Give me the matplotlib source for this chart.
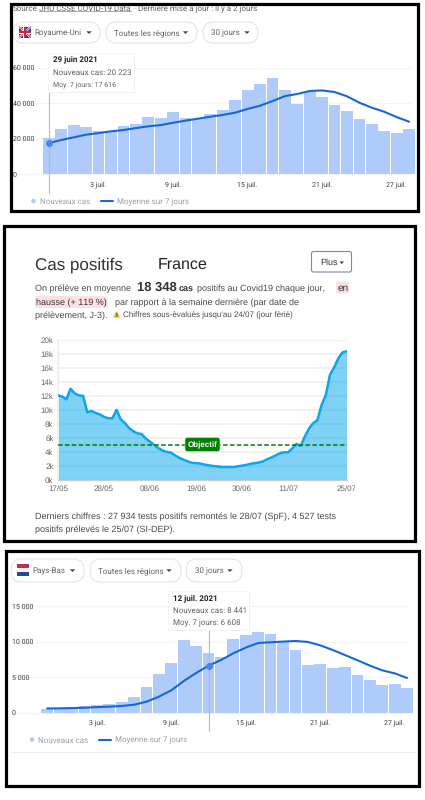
import matplotlib
matplotlib.use("Agg")
import matplotlib.pyplot as plt
from matplotlib.patches import Rectangle, FancyBboxPatch, Polygon, Circle
from matplotlib.transforms import Bbox
from matplotlib.textpath import TextPath
from matplotlib.font_manager import FontProperties

plt.rcParams["text.hinting"] = "no_hinting"
plt.rcParams["text.hinting_factor"] = 1

# ---------- data ----------
uk_new = [20223, 25500, 27600, 26700, 24300, 24500, 27000, 28300, 32000, 31800,
          35000, 31700, 31000, 33900, 36200, 41600, 47700, 51100, 54000, 47400,
          39500, 46200, 43300, 39200, 35600, 31300, 28500, 24500, 23100, 25300]
uk_avg = [17616, 19300, 20800, 22300, 23200, 24200, 24900, 26000, 27000, 27700,
          29000, 30200, 31300, 32400, 33400, 34700, 36800, 38600, 41200, 44000,
          45200, 46900, 47200, 46300, 43900, 40300, 37500, 35200, 32200, 29600]
nl_new = [520, 650, 660, 890, 1130, 1220, 1500, 2200, 3660, 5440,
          6940, 10284, 9330, 8441, 7790, 10400, 10970, 11300, 11070, 10000,
          8860, 6700, 6890, 6240, 6420, 5250, 4600, 3850, 3990, 3470]
nl_avg = [600, 610, 650, 700, 780, 850, 950, 1120, 1550, 2250,
          3140, 4450, 5580, 6608, 7400, 8350, 9150, 9800, 9900, 10000,
          10080, 9950, 9470, 8820, 8100, 7370, 6620, 5950, 5530, 4880]
fr_cases = [12.07, 11.9, 11.5, 13.0, 12.35, 12.05, 12.0, 9.65, 9.85, 9.55,
            9.35, 9.0, 8.8, 8.8, 10.0, 8.65, 8.1, 7.4, 6.95, 6.65,
            6.55, 5.9, 5.45, 5.0, 4.55, 4.2, 4.0, 3.9, 3.5, 3.15,
            2.9, 2.65, 2.45, 2.4, 2.35, 2.2, 2.1, 2.0, 1.95, 1.85,
            1.85, 1.85, 1.85, 1.95, 2.05, 2.15, 2.3, 2.4, 2.5, 2.65,
            2.95, 3.2, 3.5, 3.8, 3.95, 3.95, 4.5, 5.15, 4.85, 6.2,
            7.35, 8.1, 8.55, 10.7, 12.1, 15.0, 16.05, 17.35, 18.2, 18.348]
fr_goal = 5
month_ticks = [4, 10, 16, 22, 28]
month_labels = ["3 juil.", "9 juil.", "15 juil.", "21 juil.", "27 juil."]
uk_yticks = [0, 20000, 40000, 60000]
uk_ylabels = ["0", "20 000", "40 000", "60 000"]
nl_yticks = [0, 5000, 10000, 15000]
nl_ylabels = ["0", "5 000", "10 000", "15 000"]
fr_xticks = [0, 11, 22, 33, 44, 55, 69]
fr_xlabels = ["17/05", "28/05", "08/06", "19/06", "30/06", "11/07", "25/07"]
fr_yticks = list(range(0, 21, 2))
fr_ylabels = [f"{v}k" for v in fr_yticks]

# ---------- setup ----------
W, H = 425, 800
fig = plt.figure(figsize=(W / 100, H / 100), dpi=100, facecolor="white")
GR = "Roboto"
AR = "Liberation Sans"
TXT = "#5f6368"
BAR = "#aecbfa"
LINE = "#1967d2"
GRID = "#f1f3f4"
BODY = "#4a4a4a"
VA = "center_baseline"


def px_axes(x0, x1, ytop, ybot):
    ax = fig.add_axes([x0 / W, 1 - ybot / H, (x1 - x0) / W, (ybot - ytop) / H])
    ax.patch.set_alpha(0)
    for s in ax.spines.values():
        s.set_visible(False)
    return ax


ov = fig.add_axes([0, 0, 1, 1], zorder=5)
ov.set_xlim(0, W)
ov.set_ylim(H, 0)
ov.axis("off")
ov.patch.set_alpha(0)


def fit(x0, x1, y, s, family=AR, color=BODY, weight="normal", **kw):
    """Write s at the size that makes it span x0..x1 in pixels."""
    fp = FontProperties(family=family, weight=weight)
    w = TextPath((0, 0), s, size=10, prop=fp).get_extents().width
    size = 10 * (x1 - x0) * 0.72 / w
    return ov.text(x0, y, s, family=family, fontsize=size, color=color, fontweight=weight,
                   ha="left", va=VA, **kw)


def frame(x0, y0, x1, y1, lw=3.2):
    ov.add_patch(Rectangle((x0, y0), x1 - x0, y1 - y0, fill=False, ec="black",
                           lw=lw * 0.72, zorder=20))


def pill(x0, x1, y0, y1, text, tx0, tx1, arrow):
    ov.add_patch(FancyBboxPatch((x0, y0), x1 - x0, y1 - y0,
                                boxstyle="round,pad=0,rounding_size=10.5",
                                fc="white", ec="#e3e5e8", lw=0.8))
    ym = (y0 + y1) / 2
    fit(tx0, tx1, ym, text, GR, TXT)
    ov.add_patch(Polygon([(arrow - 2.7, ym - 1.2), (arrow + 2.7, ym - 1.2), (arrow, ym + 1.5)],
                         fc="#444746", ec="none", zorder=6))


def tooltip(x0, x1, y0, y1, lines, ys):
    ov.add_patch(Rectangle((x0 + 0.8, y0 + 0.8), x1 - x0, y1 - y0, fc="#e6e6e6", ec="none", zorder=7))
    ov.add_patch(Rectangle((x0, y0), x1 - x0, y1 - y0, fc="white", ec="#efefef", lw=0.4, zorder=8))
    for i, ((t, a, b), y) in enumerate(zip(lines, ys)):
        fit(a, b, y, t, GR, "#202124" if i == 0 else TXT,
            weight="bold" if i == 0 else "normal", zorder=9)


def legend(y, dotx, tx1, lx0, lx1, tx2):
    ov.add_patch(Circle((dotx, y), 2.3, fc=BAR, ec="none"))
    fit(tx1, tx1 + 48, y, "Nouveaux cas", GR, "#9aa0a6")
    ov.plot([lx0, lx1], [y, y], color=LINE, lw=1.5, solid_capstyle="round")
    fit(tx2, tx2 + 69, y, "Moyenne sur 7 jours", GR, "#9aa0a6")


def bar_panel(x0, x1, ytop, ybot, new, avg, yticks, ylabels, ymax, labelx, gridx1, cur, cury0, cury1, xlaby):
    ax = px_axes(x0, x1, ytop, ybot)
    xs = list(range(len(new)))
    ax.set_xlim(-0.5, len(new) - 0.5)
    ax.set_ylim(0, ymax)
    tr = ax.get_yaxis_transform()
    wpx = x1 - x0
    for v in yticks:
        ax.plot([(labelx - x0) / wpx, (gridx1 - x0) / wpx], [v, v], transform=tr, color=GRID,
                lw=0.8, clip_on=False, zorder=0)
    ax.bar(xs, new, width=0.95, color=BAR, zorder=2)
    hpx = ybot - ytop
    ax.plot([cur, cur], [(ybot - cury1) / hpx, (ybot - cury0) / hpx], transform=ax.get_xaxis_transform(),
            color="#b5b7ba", lw=0.8, clip_on=False, zorder=3)
    ax.plot(xs, avg, color=LINE, lw=1.5, zorder=4, solid_capstyle="round", clip_on=False)
    ax.plot([cur], [avg[cur]], "o", ms=4, color="#4a86e8", zorder=5, clip_on=False)
    ax.set_xticks(month_ticks, month_labels, family=GR, fontsize=5.1, color="#3c4043")
    ax.set_yticks(yticks, ylabels, family=GR, fontsize=5.1, color="#3c4043")
    ax.tick_params(axis="both", length=0)
    ax.tick_params(axis="x", pad=(xlaby - ybot) * 0.72)
    ax.tick_params(axis="y", pad=(x0 - labelx) * 0.72)
    for t in ax.get_yticklabels():
        t.set_ha("left")
    return ax


# ---------- panel 1: UK ----------
fit(13, 37, 7.5, "Source", GR, TXT)
fit(39.5, 131.5, 7.5, "JHU CSSE COVID-19 Data", GR, TXT)
ov.plot([39.5, 131.5], [11, 11], color="#888888", lw=0.5)
fit(134, 255, 7.5, "· Dernière mise à jour : il y a 2 jours", GR, TXT)
pill(13, 100, 22, 43, "Royaume-Uni", 34, 81, 89)
pill(106, 197, 22, 43, "Toutes les régions", 114, 178, 185.5)
pill(203, 258, 22, 43, "30 jours", 211, 239, 247)
# UK flag
ov.add_patch(Rectangle((19, 26.5), 12, 11, fc="#22347a", ec="none", zorder=6))
for a, b in (([19, 31], [26.5, 37.5]), ([19, 31], [37.5, 26.5])):
    ov.plot(a, b, color="white", lw=1.6, zorder=6, solid_capstyle="butt")
    ov.plot(a, b, color="#c8283c", lw=0.6, zorder=6, solid_capstyle="butt")
ov.add_patch(Rectangle((23.5, 26.5), 3, 11, fc="white", ec="none", zorder=6))
ov.add_patch(Rectangle((19, 30.5), 12, 3, fc="white", ec="none", zorder=6))
ov.add_patch(Rectangle((24.2, 26.5), 1.6, 11, fc="#c8283c", ec="none", zorder=6))
ov.add_patch(Rectangle((19, 31.2), 12, 1.6, fc="#c8283c", ec="none", zorder=6))

bar_panel(42.7, 415.3, 67.7, 174.3, uk_new, uk_avg, uk_yticks, uk_ylabels, 60000, 13, 409.5, 0, 92, 193, 181)
tooltip(48, 134, 53, 92, [("29 juin 2021", 53.5, 95.5), ("Nouveaux cas: 20 223", 53.5, 128.5),
                          ("Moy. 7 jours: 17 616", 53.5, 120)], [59.5, 71.5, 84])
legend(201, 33.5, 40, 101, 113, 117)
frame(11, 3.5, 418, 211)

# ---------- panel 2: France ----------
fit(35, 121, 263, "Cas positifs", AR, "#333333")
fit(158, 207, 263, "France", AR, "#222222")
ov.add_patch(FancyBboxPatch((311.5, 251.5), 40, 20.5, boxstyle="round,pad=0,rounding_size=2",
                            fc="white", ec="#7a8aa5", lw=0.8))
fit(320, 336, 262, "Plus", AR, "#333333")
ov.add_patch(Polygon([(339.5, 261.5), (344, 261.5), (341.7, 264)], fc="#333333", ec="none", zorder=6))
fit(35, 133.5, 287.5, "On prélève en moyenne")
fit(137, 176, 286.5, "18 348", AR, "#333333", "bold")
fit(179, 194, 288, "cas", AR, "#333333", "bold")
fit(197.5, 330, 287.5, "positifs au Covid19 chaque jour,")
ov.add_patch(FancyBboxPatch((336, 281.5), 13, 12, boxstyle="round,pad=0,rounding_size=2", fc="#fde0e4", ec="none"))
ov.add_patch(FancyBboxPatch((35, 296), 73, 12, boxstyle="round,pad=0,rounding_size=2", fc="#fde0e4", ec="none"))
fit(338, 348, 287.5, "en", AR, "#333333", zorder=6)
fit(36, 107, 301.5, "hausse (+ 119 %)", AR, "#333333", zorder=6)
fit(115, 308, 301.5, "par rapport à la semaine dernière (par date de")
fit(35, 110, 314.5, "prélèvement, J-3).")
ov.add_patch(Polygon([(113, 317.5), (120, 317.5), (116.5, 311)], fc="#f0ad1e", ec="none", zorder=6))
ov.text(116.5, 315, "!", family=AR, fontsize=4, fontweight="bold", color="#333333", ha="center", va=VA, zorder=7)
fit(123, 297, 314.5, "Chiffres sous-évalués jusqu'au 24/07 (jour férié)")
fit(35, 350, 516, "Derniers chiffres : 27 934 tests positifs remontés le 28/07 (SpF), 4 527 tests")
fit(35, 179, 529, "positifs prélevés le 25/07 (SI-DEP).")

ax = px_axes(58, 346.7, 339.7, 480)
xs = list(range(len(fr_cases)))
ax.set_xlim(0, len(fr_cases) - 1)
ax.set_ylim(0, 20)
ax.grid(axis="y", color="#f0f0f0", lw=1.4, zorder=0)
ax.set_axisbelow(True)
ax.spines["left"].set_visible(True)
ax.spines["left"].set_color("#f0f0f0")
ax.spines["left"].set_linewidth(1.4)
ax.spines["bottom"].set_visible(True)
ax.spines["bottom"].set_color("#cccccc")
ax.spines["bottom"].set_linewidth(1)
ax.fill_between(xs, fr_cases, 0, color="#00a5ef", alpha=0.5, lw=0, zorder=2)
ax.plot(xs, fr_cases, color="#0ea5ec", lw=1.8, zorder=3)
ax.axhline(fr_goal, color="#008000", lw=1.1, ls=(0, (3, 1.5)), zorder=4)
ax.set_yticks(fr_yticks, fr_ylabels, family=AR, fontsize=5.9, color="#666666")
ax.set_xticks(fr_xticks, fr_xlabels, family=AR, fontsize=5.6, color="#666666")
ax.tick_params(axis="both", length=0)
ax.tick_params(axis="y", pad=3.2)
ax.tick_params(axis="x", pad=3.6)
for t in ax.get_xticklabels():
    t.set_clip_on(True)
    t.set_clip_box(Bbox([[0, 0], [355, H]]))
ov.add_patch(FancyBboxPatch((185, 437.5), 35, 14, boxstyle="round,pad=0,rounding_size=2.5", fc="#008000", ec="#d8e8d8", lw=0.4, zorder=7))
fit(188, 216, 444.2, "Objectif", AR, "white", "bold", zorder=8)
frame(4, 225.5, 415.5, 541)

# ---------- panel 3: Netherlands ----------
pill(11, 84, 559, 582, "Pays-Bas", 32, 65, 72.5)
pill(90, 181, 559, 582, "Toutes les régions", 98, 161, 169)
pill(186.5, 242, 559, 582, "30 jours", 195, 222, 230)
ov.add_patch(Rectangle((17, 564), 12, 4, fc="#b8324a", ec="none", zorder=6))
ov.add_patch(Rectangle((17, 568), 12, 4, fc="#f4f4f4", ec="none", zorder=6))
ov.add_patch(Rectangle((17, 572), 12, 4, fc="#2f4a8c", ec="none", zorder=6))

bar_panel(41, 413.3, 606, 712.7, nl_new, nl_avg, nl_yticks, nl_ylabels, 15000, 12, 407.5, 13, 630, 731, 719)
tooltip(168, 249, 591, 630, [("12 juil. 2021", 173, 215), ("Nouveaux cas: 8 441", 173, 244),
                             ("Moy. 7 jours: 6 608", 173, 236)], [597.5, 609.5, 622])
legend(739.5, 32, 38, 99, 111, 115)
ov.plot([11, 415], [752, 752], color="#ececec", lw=0.8)
frame(6.5, 550.5, 419.5, 786)

fig.savefig("out.png", dpi=100, facecolor="white")
